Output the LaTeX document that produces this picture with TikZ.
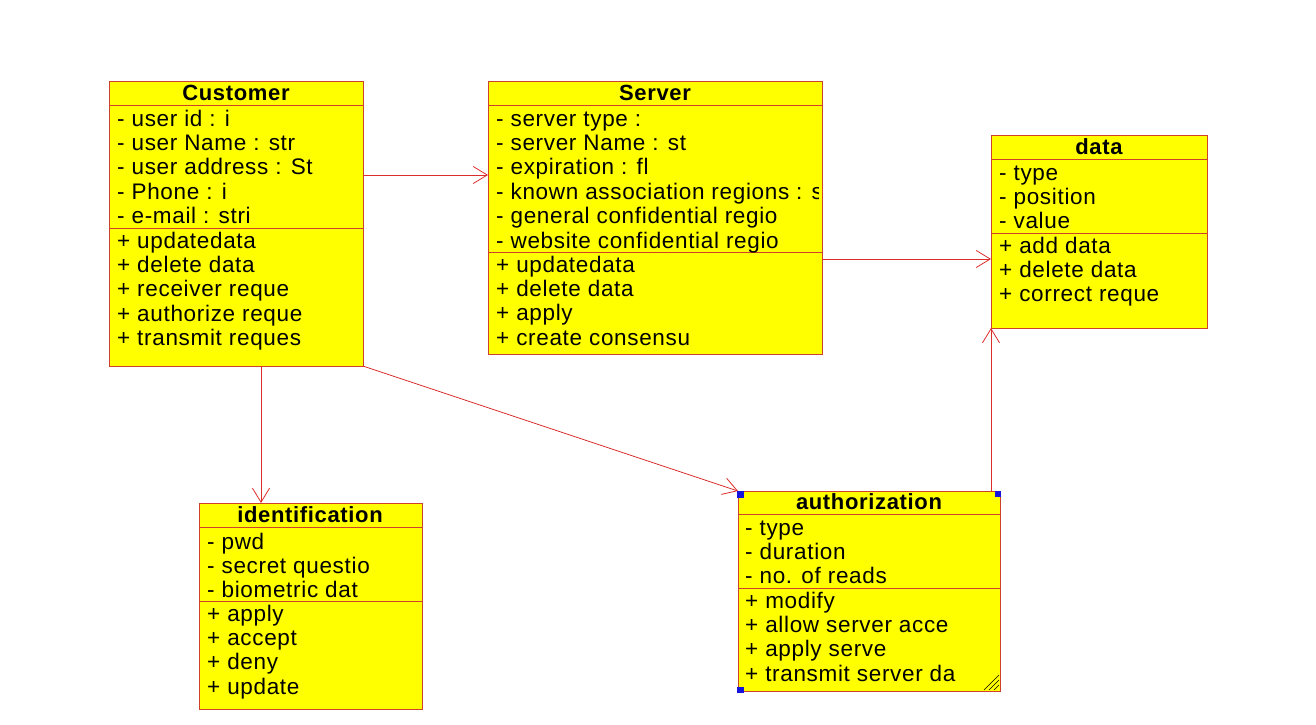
\documentclass[tikz,border=0pt]{standalone}
\usepackage{fontspec}
\setmainfont{Liberation Sans}
\newfontfamily\umlfont[LetterSpace=3]{Liberation Sans}
\usetikzlibrary{arrows.meta}
\definecolor{boxc}{RGB}{205,65,45}
\definecolor{connc}{RGB}{220,45,45}
\definecolor{fillc}{RGB}{255,255,0}
\definecolor{handc}{RGB}{20,20,220}
\tikzset{
  cls/.style={draw=boxc, fill=fillc, line width=1pt, inner sep=0pt, outer sep=0pt, anchor=north west},
  sepline/.style={draw=boxc, line width=1pt},
  row/.style={anchor=west, inner sep=0pt, text height=15pt, text depth=5pt, font=\umlfont\fontsize{22.5}{24}\selectfont},
  ttl/.style={anchor=center, inner sep=0pt, text height=15pt, text depth=5pt, font=\umlfont\bfseries\fontsize{22}{24}\selectfont},
  conn/.style={draw=connc, line width=0.8pt, -{Straight Barb[length=14pt,width=17pt,line width=0.8pt]}},
  handle/.style={fill=handc, draw=none},
}
\newcommand\umlrows[5]{%
  \foreach \t [count=\i from 0] in {#5} {\node[row] (#1-\i) at (#2, #3+\i*#4) {\t};}}
\begin{document}
\begin{tikzpicture}[x=1pt,y=-1pt]
\useasboundingbox (0,0) rectangle (1316,724);
\fill[white] (0,0) rectangle (1316,724);

% Customer
\node[cls, minimum width=254pt, minimum height=285pt] (customer) at (109,81) {};
\draw[sepline] (109,105) -- (363,105);
\draw[sepline] (109,228) -- (363,228);
\begin{scope}
\clip (110,82) rectangle (362,365);
\node[ttl] (customer-t) at (236,95) {Customer};
\umlrows{custa}{117}{121}{24.4}{- user id : i, - user Name : str, - user address : St, - Phone : i, - e-mail : stri}
\umlrows{custm}{117}{243}{24.4}{+ updatedata, + delete data, + receiver reque, + authorize reque, + transmit reques}
\end{scope}

% Server
\node[cls, minimum width=334pt, minimum height=273pt] (server) at (488,81) {};
\draw[sepline] (488,105) -- (822,105);
\draw[sepline] (488,252) -- (822,252);
\begin{scope}
\clip (489,82) rectangle (818,353);
\node[ttl] (server-t) at (655,95) {Server};
\umlrows{serva}{496}{121}{24.4}{- server type :, - server Name : st, - expiration : fl, - known association regions : s, - general confidential regio, - website confidential regio}
\umlrows{servm}{496}{267}{24.4}{+ updatedata, + delete data, + apply, + create consensu}
\end{scope}

% data
\node[cls, minimum width=216pt, minimum height=193pt] (data) at (991,135) {};
\draw[sepline] (991,159) -- (1207,159);
\draw[sepline] (991,233) -- (1207,233);
\begin{scope}
\clip (992,136) rectangle (1206,327);
\node[ttl] (data-t) at (1099,149) {data};
\umlrows{dataa}{999}{175}{24.4}{- type, - position, - value}
\umlrows{datam}{999}{248}{24.4}{+ add data, + delete data, + correct reque}
\end{scope}

% identification
\node[cls, minimum width=223pt, minimum height=206pt] (ident) at (199,503) {};
\draw[sepline] (199,527) -- (422,527);
\draw[sepline] (199,601) -- (422,601);
\begin{scope}
\clip (200,504) rectangle (421,708);
\node[ttl] (ident-t) at (310,517) {identification};
\umlrows{identa}{207}{544}{24.4}{- pwd, - secret questio, - biometric dat}
\umlrows{identm}{207}{616}{24.4}{+ apply, + accept, + deny, + update}
\end{scope}

% authorization
\node[cls, minimum width=262pt, minimum height=200pt] (auth) at (738,491) {};
\draw[sepline] (738,514) -- (1000,514);
\draw[sepline] (738,588) -- (1000,588);
\begin{scope}
\clip (739,492) rectangle (999,690);
\node[ttl] (auth-t) at (869,504) {authorization};
\umlrows{autha}{745}{530}{24.4}{- type, - duration, - no. of reads}
\umlrows{authm}{745}{603}{24.4}{+ modify, + allow server acce, + apply serve, + transmit server da}
\end{scope}
% selection handles and resize grip
\fill[handle] (737,491) rectangle (744,498);
\fill[handle] (995,491) rectangle (1001,497);
\fill[handle] (737,687) rectangle (744,693);
\foreach \d in {5,10,15} {\draw[black, line width=0.6pt] (999-\d,690) -- (999,690-\d);}

% connectors
\draw[conn] (customer.east |- 0,175) -- (server.west |- 0,175);
\draw[conn] (server.east |- 0,259) -- (data.west |- 0,259);
\draw[conn] (261,0 |- customer.south) -- (261,0 |- ident.north);
\draw[conn] (customer.south east) -- (auth.north west);
\draw[conn] (data.south west |- auth.north) -- (data.south west);
\end{tikzpicture}
\end{document}
